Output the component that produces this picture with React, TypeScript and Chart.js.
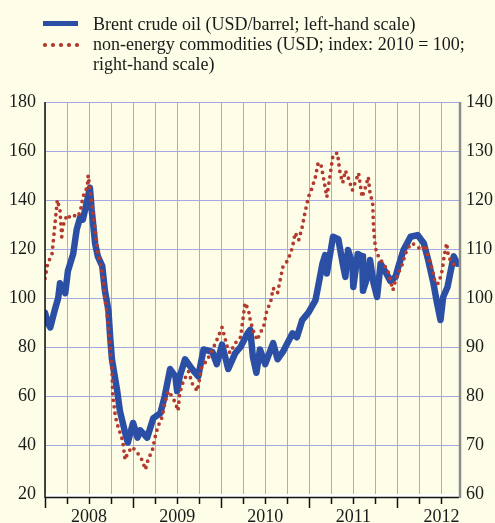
import React, { useEffect, useRef } from "react";
import { Chart, registerables } from "chart.js";

Chart.register(...registerables);

// Brent crude oil, USD/barrel (left-hand scale); dates as decimal years
const brentDates = [
  2008.0, 2008.03, 2008.06, 2008.11, 2008.15, 2008.17, 2008.23, 2008.26, 2008.32, 2008.34, 2008.36,
  2008.4, 2008.43, 2008.48, 2008.51, 2008.53, 2008.57, 2008.6, 2008.65, 2008.68, 2008.72,
  2008.74, 2008.76, 2008.82, 2008.85, 2008.91, 2008.94, 2009.0, 2009.05, 2009.08, 2009.16,
  2009.23, 2009.31, 2009.36, 2009.42, 2009.48, 2009.5, 2009.53, 2009.59, 2009.67, 2009.74,
  2009.8, 2009.9, 2009.95, 2010.01, 2010.08, 2010.16, 2010.22, 2010.3, 2010.33, 2010.36,
  2010.4, 2010.44, 2010.5, 2010.59, 2010.64, 2010.7, 2010.81, 2010.86, 2010.92, 2010.99,
  2011.07, 2011.1, 2011.15, 2011.18, 2011.2, 2011.27, 2011.33, 2011.38, 2011.41, 2011.44,
  2011.49, 2011.5, 2011.55, 2011.6, 2011.61, 2011.66, 2011.69, 2011.73, 2011.77, 2011.81,
  2011.86, 2011.92, 2011.98, 2012.01, 2012.07, 2012.15, 2012.23, 2012.3, 2012.35, 2012.41,
  2012.45, 2012.49, 2012.52, 2012.57, 2012.6, 2012.64, 2012.68,
];
const brentValues = [
  94, 90, 88, 95, 100, 106, 102, 111, 118, 123, 128,
  133, 132, 140, 145, 136, 122, 117, 113, 103, 95,
  84, 75, 62, 54, 45, 41, 49, 43, 46, 43,
  51, 53, 60, 71, 68, 62, 68, 75, 71, 68,
  79, 78, 73, 81, 71, 77.5, 80, 85.6, 87, 76,
  69.5, 79, 73, 81.6, 75, 78, 85.6, 84, 91, 94,
  99, 104.5, 114, 117.5, 110, 125, 124, 114, 108.6, 119.6,
  114, 104.5, 118, 117, 103, 108.6, 115.5, 106, 100.4, 114,
  111, 107, 108.6, 112.6, 119.6, 125, 125.7, 122.4, 115.5, 106,
  98, 91, 100.4, 104.5, 110, 117, 114,
];

// Non-energy commodities, USD index 2010 = 100 (right-hand scale)
const commodityDates = [
  2008.0, 2008.03, 2008.08, 2008.11, 2008.14, 2008.17, 2008.19, 2008.2, 2008.25, 2008.28,
  2008.32, 2008.36, 2008.4, 2008.43, 2008.48, 2008.49, 2008.53, 2008.57, 2008.6, 2008.63,
  2008.66, 2008.68, 2008.7, 2008.72, 2008.74, 2008.76, 2008.77, 2008.8, 2008.83, 2008.88,
  2008.91, 2008.94, 2008.99, 2009.05, 2009.1, 2009.14, 2009.17, 2009.22, 2009.25, 2009.28,
  2009.33, 2009.36, 2009.4, 2009.44, 2009.48, 2009.51, 2009.53, 2009.57, 2009.63, 2009.67,
  2009.73, 2009.78, 2009.84, 2009.9, 2009.95, 2010.01, 2010.07, 2010.1, 2010.16, 2010.22,
  2010.25, 2010.27, 2010.31, 2010.33, 2010.36, 2010.41, 2010.44, 2010.48, 2010.52, 2010.56,
  2010.59, 2010.64, 2010.67, 2010.7, 2010.76, 2010.81, 2010.84, 2010.88, 2010.92, 2010.95,
  2010.99, 2011.03, 2011.07, 2011.1, 2011.13, 2011.16, 2011.2, 2011.24, 2011.27, 2011.32,
  2011.35, 2011.38, 2011.41, 2011.44, 2011.49, 2011.52, 2011.56, 2011.6, 2011.64, 2011.67,
  2011.69, 2011.72, 2011.73, 2011.75, 2011.77, 2011.81, 2011.84, 2011.89, 2011.92, 2011.95,
  2011.98, 2012.01, 2012.06, 2012.09, 2012.13, 2012.17, 2012.23, 2012.28, 2012.32, 2012.35,
  2012.4, 2012.43, 2012.47, 2012.51, 2012.53, 2012.56, 2012.58, 2012.63, 2012.66,
];
const commodityValues = [
  104, 107, 109, 114.5, 120, 118, 112.5, 114.5, 117, 116.5,
  117, 116.5, 117.5, 120.6, 122.7, 125, 119.4, 114, 109, 107,
  104, 100, 97.5, 94, 89.4, 85.3, 80, 75.7, 73.7, 71,
  67, 68.4, 69.6, 68.4, 67, 65, 67, 69, 71.6, 73.7,
  75.7, 78.6, 81, 80, 78.6, 77, 80.6, 83, 85, 82.6,
  81, 86, 87.3, 89.4, 91.4, 94, 90, 88.8, 90.8, 92,
  96, 99, 97.6, 95.5, 93.5, 91.4, 92.8, 94, 97.6, 99,
  102, 101, 103.7, 106.3, 107.8, 110.4, 113.3, 111.8, 114.5, 117.3,
  120.6, 122.4, 124.7, 127.5, 127.5, 124.7, 120.6, 125.5, 129.2, 129.6,
  125.5, 123.5, 126, 124.7, 122, 123.5, 125.5, 120.6, 122.7, 124.7,
  121.4, 119.4, 114.5, 110.4, 109, 107.8, 107, 105.7, 103.7, 101.6,
  103.7, 105, 107, 109, 110.4, 111.2, 110.4, 109.8, 110.8, 108.4,
  105.7, 103, 103, 105.7, 108.4, 111.2, 108.4, 107, 106.7,
];

const yearLabels = [2008, 2009, 2010, 2011, 2012];
const xStart = 2008.0;
const xEnd = 2012.7;

const BLUE = "#2C4FA6";
const RED = "#B23A2E";
const GRID = "#A3AAE2";
const BG = "#FEFDE8";
const FONT = "'Liberation Serif', 'Times New Roman', serif";

const axisPlugin = {
  id: "customAxes",
  afterDraw(chart: any) {
    const { ctx, chartArea, scales } = chart;
    const { left, right, top, bottom } = chartArea;
    const x = scales.x;
    ctx.save();
    ctx.fillStyle = "#ffffff";
    ctx.fillRect(left, bottom, right - left, 3);
    ctx.strokeStyle = "#111";
    ctx.lineWidth = 1.5;
    ctx.beginPath();
    ctx.moveTo(left, bottom + 3.5);
    ctx.lineTo(right, bottom + 3.5);
    ctx.stroke();
    for (let q = Math.round(xStart * 4); q / 4 <= xEnd; q++) {
      const v = q / 4;
      const px = Math.round(x.getPixelForValue(v)) + 0.5;
      const len = q % 4 === 0 ? 11 : 7;
      ctx.beginPath();
      ctx.moveTo(px, bottom + 3);
      ctx.lineTo(px, bottom + 3 + len);
      ctx.stroke();
    }
    ctx.beginPath();
    ctx.moveTo(left, top);
    ctx.lineTo(left, bottom + 4);
    ctx.stroke();
    ctx.strokeStyle = "#8c8c8c";
    ctx.lineWidth = 2.5;
    ctx.beginPath();
    ctx.moveTo(right + 1, top);
    ctx.lineTo(right + 1, bottom + 4);
    ctx.stroke();
    ctx.restore();
  },
};

export default function App() {
  const canvasRef = useRef<HTMLCanvasElement | null>(null);

  useEffect(() => {
    if (!canvasRef.current) return;
    const chart = new Chart(canvasRef.current, {
      type: "line",
      data: {
        datasets: [
          {
            label: "non-energy commodities",
            data: commodityDates.map((d, i) => ({ x: d, y: commodityValues[i] })),
            yAxisID: "y2",
            borderColor: RED,
            borderWidth: 3.8,
            borderDash: [0, 6.5],
            borderCapStyle: "round",
            pointRadius: 0,
            tension: 0,
            order: 0,
          },
          {
            label: "Brent crude oil",
            data: brentDates.map((d, i) => ({ x: d, y: brentValues[i] })),
            yAxisID: "y",
            borderColor: BLUE,
            borderWidth: 6.5,
            borderJoinStyle: "round",
            borderCapStyle: "round",
            pointRadius: 0,
            tension: 0,
            order: 1,
          },
        ],
      },
      options: {
        responsive: false,
        animation: false,
        layout: { padding: { top: 102, left: 0, right: 0, bottom: 0 } },
        plugins: { legend: { display: false }, tooltip: { enabled: false } },
        scales: {
          x: {
            type: "linear",
            min: xStart,
            max: xEnd,
            afterFit: (s: any) => {
              s.height = 29;
            },
            grid: { color: GRID, lineWidth: 1, drawTicks: false },
            border: { display: false },
            ticks: {
              stepSize: 0.25,
              includeBounds: false,
              autoSkip: false,
              maxRotation: 0,
              padding: 12,
              color: "#1a1a1a",
              font: { family: FONT, size: 18 },
              callback: (v: any) => {
                const n = Number(v);
                const y = Math.floor(n);
                return Math.abs(n - y - 0.5) < 1e-6 && yearLabels.includes(y) ? String(y) : "";
              },
            },
          },
          y: {
            position: "left",
            min: 20,
            max: 180,
            afterFit: (s: any) => {
              s.width = 45;
            },
            grid: { color: GRID, lineWidth: 1, drawTicks: false },
            border: { display: false },
            ticks: {
              stepSize: 20,
              padding: 9,
              color: "#1a1a1a",
              font: { family: FONT, size: 18 },
            },
          },
          y2: {
            position: "right",
            min: 60,
            max: 140,
            afterFit: (s: any) => {
              s.width = 36;
            },
            grid: { display: false, drawTicks: false },
            border: { display: false },
            ticks: {
              stepSize: 10,
              padding: 7,
              color: "#1a1a1a",
              font: { family: FONT, size: 18 },
            },
          },
        },
      },
      plugins: [axisPlugin],
    } as any);
    return () => chart.destroy();
  }, []);

  const dots = [45, 53, 61, 69, 77];

  return (
    <div
      style={{
        position: "fixed",
        left: 0,
        top: 0,
        width: 495,
        height: 523,
        background: BG,
        overflow: "hidden",
      }}
    >
      <canvas
        ref={canvasRef}
        width={495}
        height={523}
        style={{ position: "absolute", left: 0, top: 0, width: 495, height: 523 }}
      />
      <div
        style={{
          position: "absolute",
          left: 43,
          top: 21,
          width: 35,
          height: 5,
          background: BLUE,
        }}
      />
      {dots.map((cx) => (
        <div
          key={cx}
          style={{
            position: "absolute",
            left: cx - 1.75,
            top: 43.25,
            width: 3.5,
            height: 3.5,
            borderRadius: "50%",
            background: RED,
          }}
        />
      ))}
      <div
        style={{
          position: "absolute",
          left: 93,
          top: 14,
          fontFamily: FONT,
          fontSize: 18,
          lineHeight: "20px",
          color: "#1a1a1a",
          whiteSpace: "nowrap",
        }}
      >
        <div>Brent crude oil (USD/barrel; left-hand scale)</div>
        <div>non-energy commodities (USD; index: 2010 = 100;</div>
        <div>right-hand scale)</div>
      </div>
    </div>
  );
}
